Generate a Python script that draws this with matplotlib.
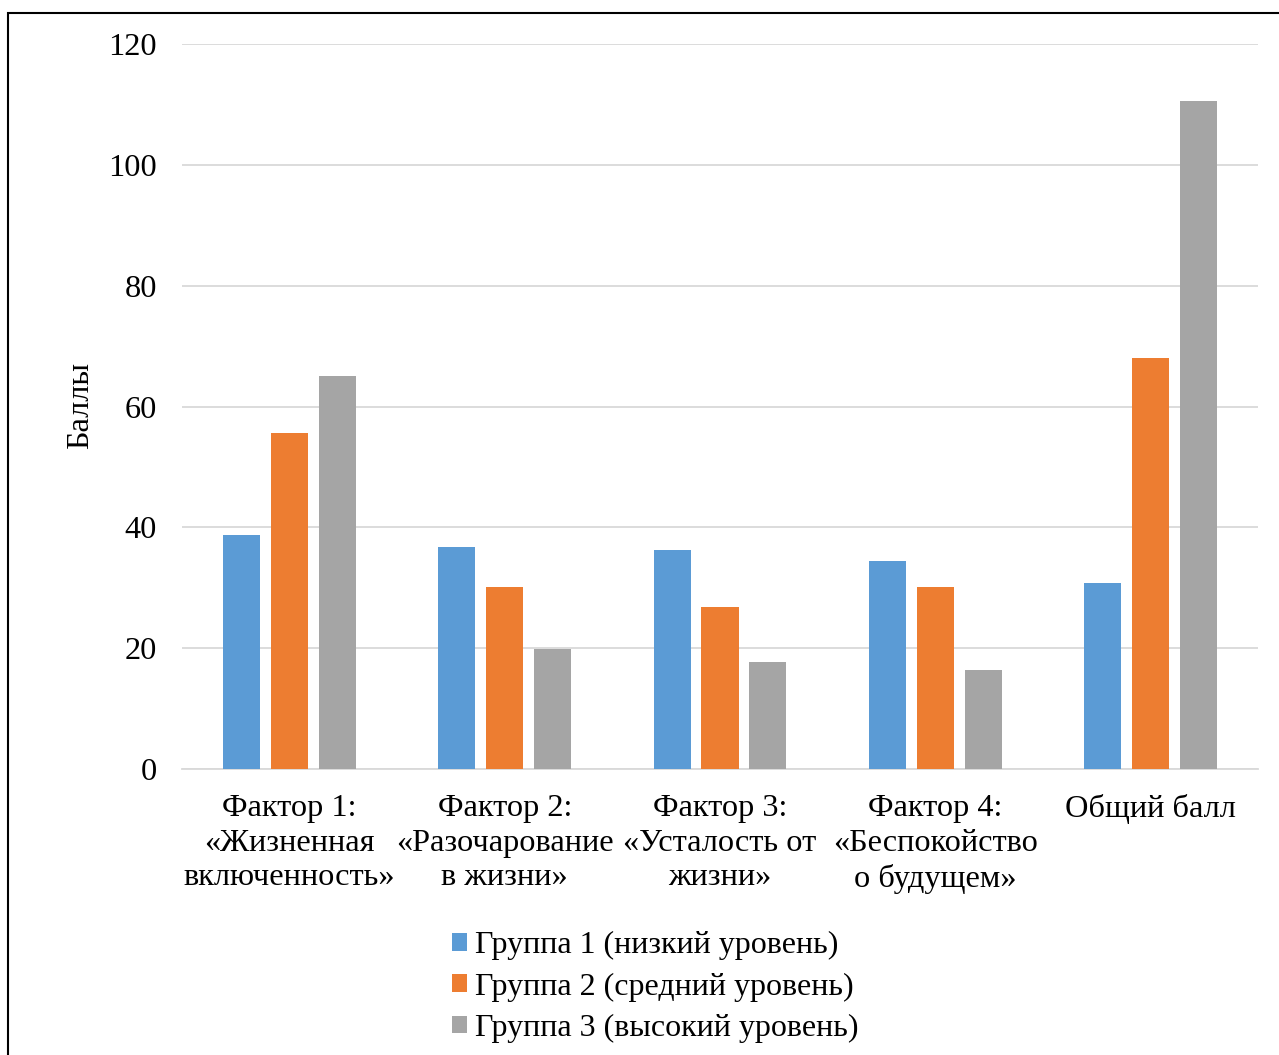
import matplotlib
matplotlib.use("Agg")
import matplotlib.pyplot as plt
import numpy as np
from matplotlib.patches import Rectangle

# ---- data ---------------------------------------------------------------
categories = [
    "Фактор 1:\n«Жизненная\nвключенность»",
    "Фактор 2:\n«Разочарование\nв жизни»",
    "Фактор 3:\n«Усталость от\nжизни»",
    "Фактор 4:\n«Беспокойство\nо будущем»",
    "Общий балл",
]
group1 = [38.7, 36.7, 36.2, 34.4, 30.8]
group2 = [55.6, 30.1, 26.8, 30.1, 68.0]
group3 = [65.0, 19.9, 17.7, 16.4, 110.6]
series_labels = [
    "Группа 1 (низкий уровень)",
    "Группа 2 (средний уровень)",
    "Группа 3 (высокий уровень)",
]
yticks = [0, 20, 40, 60, 80, 100, 120]

colors = ["#5B9BD5", "#ED7D31", "#A5A5A5"]

plt.rcParams["font.family"] = ["Liberation Serif", "DejaVu Serif"]
FS = 23.3

fig = plt.figure(figsize=(12.79, 10.55), dpi=100)
ax = fig.add_axes([182 / 1279, 1 - 769 / 1055, (1258 - 182) / 1279, (769 - 44) / 1055])

x = np.arange(len(categories))
width = 0.172
step = 0.223
for i, (vals, col, lab) in enumerate(zip([group1, group2, group3], colors, series_labels)):
    ax.bar(x + (i - 1) * step, vals, width, color=col, label=lab, zorder=3)

ax.set_xlim(-0.5, len(categories) - 0.5)
ax.set_ylim(0, 120)
ax.set_yticks(yticks)
ax.set_yticklabels([str(t) for t in yticks], fontsize=FS)
ax.set_xticks(x)
ax.set_xticklabels(categories, fontsize=FS, linespacing=1.26)
ax.tick_params(axis="both", length=0)
ax.tick_params(axis="x", pad=18)
ax.tick_params(axis="y", pad=18)
ax.grid(axis="y", color="#d9d9d9", linewidth=1.3, zorder=0)
for s in ["top", "right", "left"]:
    ax.spines[s].set_visible(False)
ax.spines["bottom"].set_color("#d9d9d9")
ax.spines["bottom"].set_linewidth(1.3)

fig.text(81 / 1279, 1 - 405 / 1055, "Баллы", rotation=90, fontsize=FS,
         ha="center", va="center")

handles, labels = ax.get_legend_handles_labels()
fig.legend(handles, labels, loc="center", bbox_to_anchor=(655 / 1279, 1 - 987 / 1055),
           frameon=False, fontsize=23, handlelength=0.48, handleheight=0.48,
           handletextpad=0.25, labelspacing=0.38, borderpad=0)

# outer frame
fig.patches.append(Rectangle((8 / 1279, -0.01), 1.02, 1 - 13 / 1055 + 0.01,
                             transform=fig.transFigure, fill=False,
                             edgecolor="black", linewidth=1.5))

fig.savefig("out.png", dpi=100)
